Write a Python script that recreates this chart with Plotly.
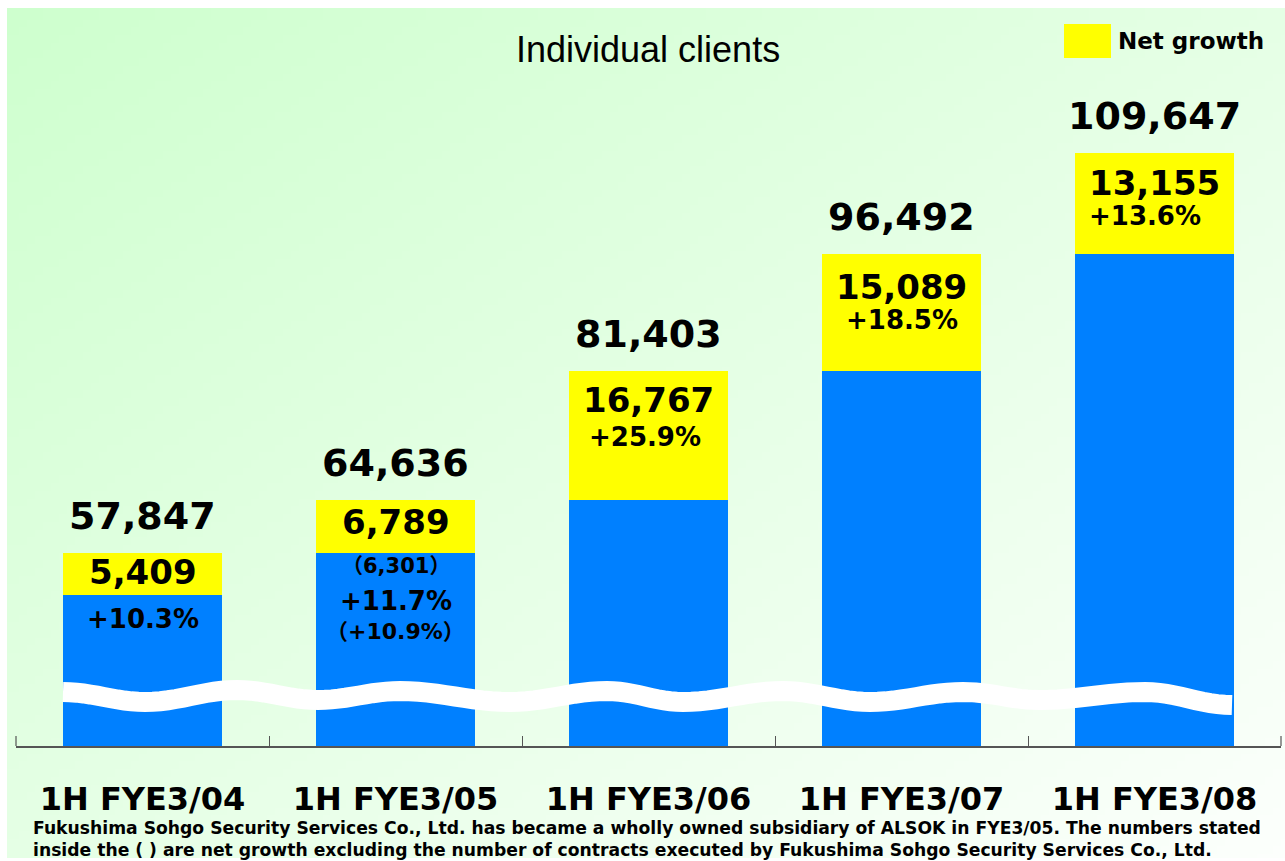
import base64
import math
import struct
import zlib

import plotly.graph_objects as go

# ---------------- data ----------------
categories = ["1H FYE3/04", "1H FYE3/05", "1H FYE3/06", "1H FYE3/07", "1H FYE3/08"]
totals = [57847, 64636, 81403, 96492, 109647]
net_growth = [5409, 6789, 16767, 15089, 13155]
growth_pct = ["+10.3%", "+11.7%", "+25.9%", "+18.5%", "+13.6%"]
excl_growth = ["", "（6,301）", "", "", ""]
excl_pct = ["", "（+10.9%）", "", "", ""]
previous = [t - g for t, g in zip(totals, net_growth)]

title_text = "Individual clients"
legend_text = "Net growth"
footnote = ("Fukushima Sohgo Security Services Co., Ltd. has became a wholly owned subsidiary of ALSOK in FYE3/05. "
            "The numbers stated<br>inside the ( ) are net growth excluding the number of contracts executed by "
            "Fukushima Sohgo Security Services Co., Ltd.")

# ---------------- style / layout constants ----------------
W, H = 1285, 861
L, R, T, B = 16, 4, 8, 115
PW, PH = W - L - R, H - T - B
BLUE = "#0080FF"
YELLOW = "#FFFF00"
BOLD = "DejaVu Sans, Noto Sans CJK JP"
Y_RANGE = [32850, 32850 + PH / 0.007726]

growth_shift = [-19, -22, -29, -33, -30]
pct_shift = [-66, -101, -66, -66, -63]
pct_xshift = [0, 0, -4, 0, -10]


def px(xp):
    return (xp - L) / PW


def py(yp):
    return (T + PH - yp) / PH


# ---------------- background gradient image ----------------
def gradient_png(w=160, h=110, c0=(206, 255, 206), c1=(252, 255, 252)):
    rows = b""
    for j in range(h):
        row = b"\x00"
        for i in range(w):
            t = (i / (w - 1) + j / (h - 1)) / 2
            row += bytes(int(round(a + (b - a) * t)) for a, b in zip(c0, c1))
        rows += row

    def chunk(tag, data):
        c = struct.pack(">I", len(data)) + tag + data
        return c + struct.pack(">I", zlib.crc32(tag + data) & 0xFFFFFFFF)

    png = b"\x89PNG\r\n\x1a\n"
    png += chunk(b"IHDR", struct.pack(">IIBBBBB", w, h, 8, 2, 0, 0, 0))
    png += chunk(b"IDAT", zlib.compress(rows, 9))
    png += chunk(b"IEND", b"")
    return "data:image/png;base64," + base64.b64encode(png).decode()


# ---------------- figure ----------------
fig = go.Figure()
fig.add_trace(go.Bar(x=categories, y=previous, marker=dict(color=BLUE, line=dict(width=0)),
                     hoverinfo="skip", name="Previous"))
fig.add_trace(go.Bar(x=categories, y=net_growth, marker=dict(color=YELLOW, line=dict(width=0)),
                     hoverinfo="skip", name=legend_text))

ann = []
for i, c in enumerate(categories):
    ann.append(dict(x=c, y=totals[i], xref="x", yref="y", yshift=37, showarrow=False,
                    text=f"{totals[i]:,}", font=dict(family=BOLD, size=38, color="black", weight="bold")))
    ann.append(dict(x=c, y=totals[i], xref="x", yref="y", yshift=growth_shift[i], showarrow=False,
                    text=f"{net_growth[i]:,}", font=dict(family=BOLD, size=34, color="black", weight="bold")))
    ann.append(dict(x=c, y=totals[i], xref="x", yref="y", yshift=pct_shift[i], xshift=pct_xshift[i],
                    showarrow=False, text=growth_pct[i],
                    font=dict(family=BOLD, size=26, color="black", weight="bold")))
    if excl_growth[i]:
        ann.append(dict(x=c, y=totals[i], xref="x", yref="y", yshift=-66, showarrow=False,
                        text=excl_growth[i], font=dict(family=BOLD, size=21, color="black", weight="bold")))
    if excl_pct[i]:
        ann.append(dict(x=c, y=totals[i], xref="x", yref="y", yshift=-131, showarrow=False,
                        text=excl_pct[i], font=dict(family=BOLD, size=22, color="black", weight="bold")))

ann.append(dict(x=px(648), y=py(50), xref="paper", yref="paper", showarrow=False, text=title_text,
                xanchor="center", yanchor="middle",
                font=dict(family="Liberation Sans, Arial", size=36, color="black")))
ann.append(dict(x=px(1116), y=py(41), xref="paper", yref="paper", showarrow=False, text=legend_text,
                xanchor="left", yanchor="middle",
                font=dict(family=BOLD, size=23, color="black", weight="bold")))
ann.append(dict(x=px(31), y=py(839), xref="paper", yref="paper", showarrow=False, text=footnote,
                xanchor="left", yanchor="middle", align="left",
                font=dict(family=BOLD, size=17.2, color="black", weight="bold")))

# wavy white break line
keys = [(63, 692), (145, 702), (237, 690), (318, 700), (400, 691), (510, 702), (607, 691),
        (683, 702), (783, 691), (870, 702), (963, 692), (1040, 700), (1145, 692), (1232, 705)]
pts = []
for (x0, y0), (x1, y1) in zip(keys[:-1], keys[1:]):
    for k in range(12):
        s = k / 12
        f = (1 - math.cos(math.pi * s)) / 2
        pts.append((x0 + (x1 - x0) * s, y0 + (y1 - y0) * f))
pts.append(keys[-1])
path = "M " + " L ".join(f"{px(a):.5f},{py(b):.5f}" for a, b in pts)

shapes = [
    dict(type="path", path=path, xref="paper", yref="paper", line=dict(color="white", width=20), layer="above"),
    dict(type="rect", x0=px(1064), x1=px(1111), y0=py(58), y1=py(24), xref="paper", yref="paper",
         fillcolor=YELLOW, line=dict(width=0), layer="above"),
]
# edge ticks of the category axis (boundaries at both ends)
for edge in (0.0, 1.0):
    shapes.append(dict(type="line", x0=edge, x1=edge, y0=0, y1=py(736), xref="paper", yref="paper",
                       line=dict(color="#555555", width=1.2), layer="above"))

fig.update_layout(
    width=W, height=H, autosize=False,
    margin=dict(l=L, r=R, t=T, b=B, pad=0),
    paper_bgcolor="white", plot_bgcolor="rgba(0,0,0,0)",
    barmode="stack", bargap=0.368, showlegend=False,
    annotations=ann, shapes=shapes,
    images=[dict(source=gradient_png(), xref="paper", yref="paper", x=px(7), y=py(8),
                 sizex=px(1285) - px(7), sizey=py(8) - py(858), sizing="stretch",
                 xanchor="left", yanchor="top", layer="below")],
)
fig.update_xaxes(showline=True, linecolor="#555555", linewidth=1.5, ticks="inside", tickson="boundaries",
                 ticklen=10, tickcolor="#555555", tickwidth=1.2, showgrid=False, zeroline=False,
                 tickfont=dict(family=BOLD, size=32, color="black", weight="bold"), ticklabelstandoff=24)
fig.update_yaxes(visible=False, range=Y_RANGE, showgrid=False, zeroline=False)

fig.write_html("out.html", config={"displayModeBar": False},
               post_script="document.body.style.margin='0';document.body.style.overflow='hidden';")
